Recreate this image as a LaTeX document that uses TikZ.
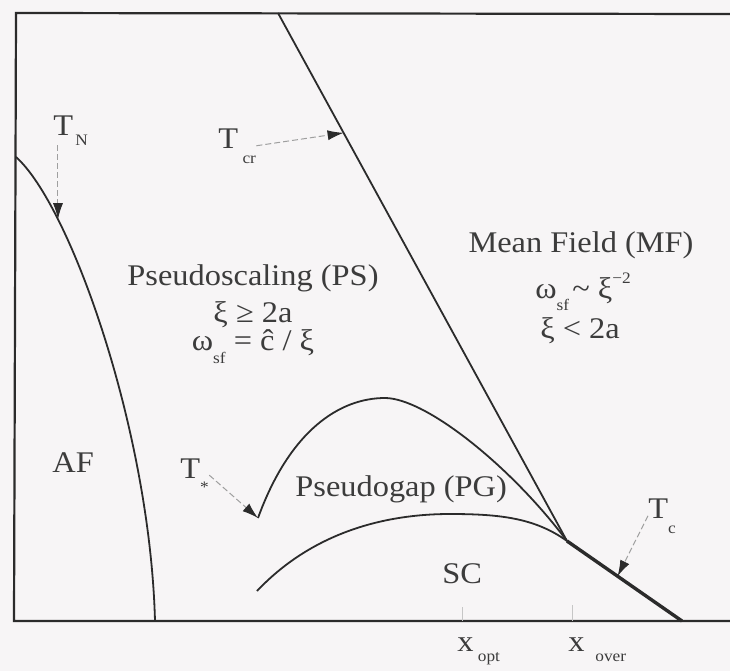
\documentclass[tikz,border=0pt]{standalone}
\usepackage{fontspec}
\setmainfont{Liberation Serif}
\usepackage{tikz}
\usetikzlibrary{arrows.meta,calc}
\usepackage{xcolor}
\definecolor{ink}{HTML}{2B2B2B}
\definecolor{txt}{HTML}{3C3C3C}
\definecolor{paper}{HTML}{F7F5F6}
\newcommand{\lsub}[2][5pt]{\raisebox{-#1}{\fontsize{8}{8}\selectfont #2}}
\newcommand{\hsup}[1]{\raisebox{0.5em}{\fontsize{8}{8}\selectfont #1}}
\tikzset{
  frameline/.style = {draw=ink, line width=1.1pt},
  phase/.style     = {draw=ink, line width=0.9pt},
  tcline/.style    = {draw=ink, line width=1.7pt},
  tickmark/.style  = {draw=gray!45, line width=0.5pt},
  lbl/.style       = {text=txt, inner sep=0pt, xscale=1.08,
                      font=\fontsize{15}{18}\selectfont},
  pointer/.style   = {draw=gray!75, line width=0.5pt,
                      dash pattern=on 3pt off 1.5pt,
                      -{Latex[length=8pt,width=5pt,color=ink]}},
}

\begin{document}
\begin{tikzpicture}[x=0.5pt,y=-0.5pt]
\fill[paper] (0,0) rectangle (730,671);
\useasboundingbox (0,0) rectangle (730,671);
\coordinate (tl) at (16,13);
\coordinate (tr) at (730,14);
\coordinate (bl) at (14,621);
\coordinate (br) at (730,621);
\draw[frameline] (tr) -- (tl) -- (bl) -- (br);
\coordinate (nstart) at (16,157);
\coordinate (nend) at (155,621);
\coordinate (crtop) at (278,13);
\coordinate (meet) at (567,541);
\coordinate (tcend) at (682,621);
\coordinate (tstar) at (258,518);
\coordinate (pgtop) at (385,398);
\coordinate (scstart) at (257,591);
\coordinate (sctop) at (450,514);
\draw[phase] (nstart) .. controls (70,205) and (150,430) .. (nend)
  coordinate[pos=0.24] (nhit);
\draw[phase] (crtop) -- (meet) coordinate[pos=0.227] (crhit);
\draw[tcline] (meet) -- (tcend) coordinate[pos=0.44] (tchit);
\draw[phase] (tstar) .. controls (290,430) and (340,398) .. (pgtop)
  .. controls (425,398) and (510,465) .. (meet);
\draw[phase] (scstart) .. controls (310,535) and (380,514) .. (sctop)
  .. controls (500,514) and (535,518) .. (meet);
\coordinate (opttick) at (462,607);
\coordinate (overtick) at (572,605);
\draw[tickmark] (opttick) -- (opttick |- bl);
\draw[tickmark] (overtick) -- (overtick |- bl);
\node[lbl,anchor=base west] (tn) at (53,135) {T\kern1pt\lsub{N}};
\node[lbl,anchor=base west] (tcr) at (218,148) {T\kern2pt\lsub[7.5pt]{cr}};
\node[lbl,anchor=base west] (tst) at (180,478) {T\lsub[7pt]{*}};
\node[lbl,anchor=base west] (tc) at (648,518) {T\lsub[7.5pt]{c}};
\draw[pointer] (nhit |- tn.south) -- (nhit);
\draw[pointer] (tcr.east) -- (crhit);
\draw[pointer] (tst.east) -- (tstar);
\draw[pointer] (tc.west) -- (tchit);
\node[lbl,anchor=base] (ps) at (253,285) {Pseudoscaling (PS)};
\node[lbl,anchor=base] (pscond) at (253,322) {ξ ≥ 2a};
\node[lbl,anchor=base] (psomega) at (253,350) {ω\lsub[6.5pt]{sf} = ĉ / ξ};
\node[lbl,anchor=base] (mf) at (581,252) {Mean Field (MF)};
\node[lbl,anchor=base] (mfomega) at (583,298) {ω\lsub[6pt]{sf}\kern1.5pt\textasciitilde\ ξ\hsup{−2}};
\node[lbl,anchor=base] (mfcond) at (580,338) {ξ < 2a};
\node[lbl,anchor=base west] (af) at (52,472) {AF};
\node[lbl,anchor=base west] (pg) at (295,496) {Pseudogap (PG)};
\node[lbl,anchor=base west] (sc) at (442,583) {SC};
\node[lbl,anchor=base west] (xopt) at (457,651) {x\kern2pt\lsub{opt}};
\node[lbl,anchor=base west] (xover) at (568,651) {x\kern5pt\lsub{over}};
\end{tikzpicture}
\end{document}
